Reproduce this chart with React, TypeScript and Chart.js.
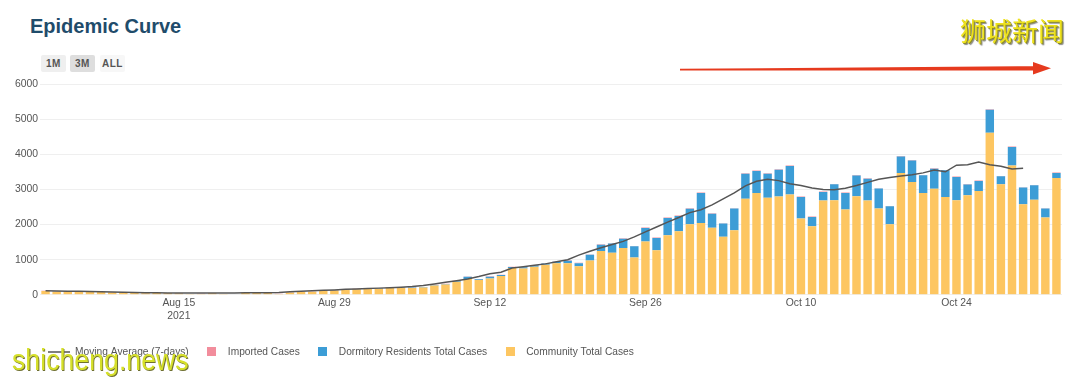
import React, { useEffect, useRef } from 'react';
import { Chart, registerables } from 'chart.js';

Chart.register(...registerables);

const dates = [
  'Aug 3','Aug 4','Aug 5','Aug 6','Aug 7','Aug 8','Aug 9','Aug 10','Aug 11','Aug 12','Aug 13','Aug 14','Aug 15','Aug 16','Aug 17','Aug 18','Aug 19','Aug 20','Aug 21','Aug 22','Aug 23','Aug 24','Aug 25','Aug 26','Aug 27','Aug 28','Aug 29','Aug 30','Aug 31',
  'Sep 1','Sep 2','Sep 3','Sep 4','Sep 5','Sep 6','Sep 7','Sep 8','Sep 9','Sep 10','Sep 11','Sep 12','Sep 13','Sep 14','Sep 15','Sep 16','Sep 17','Sep 18','Sep 19','Sep 20','Sep 21','Sep 22','Sep 23','Sep 24','Sep 25','Sep 26','Sep 27','Sep 28','Sep 29','Sep 30',
  'Oct 1','Oct 2','Oct 3','Oct 4','Oct 5','Oct 6','Oct 7','Oct 8','Oct 9','Oct 10','Oct 11','Oct 12','Oct 13','Oct 14','Oct 15','Oct 16','Oct 17','Oct 18','Oct 19','Oct 20','Oct 21','Oct 22','Oct 23','Oct 24','Oct 25','Oct 26','Oct 27','Oct 28','Oct 29','Oct 30','Oct 31',
  'Nov 1','Nov 2',
];

const tickDates = ['Aug 15', 'Aug 29', 'Sep 12', 'Sep 26', 'Oct 10', 'Oct 24'];
const yearLabel = '2021';
const yearTickDate = 'Aug 15';
const yTickStep = 1000;
const yMax = 6000;

const community = [
  106, 90, 95, 91, 81, 78, 66, 61, 57, 43, 50, 43, 37, 23, 24, 42, 20, 13, 55, 60, 52, 24, 63, 79, 86, 116, 125, 149, 158,
  169, 175, 191, 197, 197, 210, 263, 291, 372, 453, 424, 466, 537, 760, 747, 798, 855, 901, 899, 810, 978, 1246, 1195, 1333, 1061, 1520, 1269, 1692, 1808, 2006,
  2047, 1910, 1651, 1839, 2736, 2897, 2765, 2800, 2858, 2170, 1950, 2686, 2688, 2425, 2802, 2685, 2454, 2008, 3465, 3210, 2898, 3019, 2785, 2688, 2831, 2957, 4611, 3144, 3683, 2577, 2708,
  2198, 3323,
];

const dormitory = [
  2, 1, 2, 1, 0, 1, 0, 1, 1, 0, 2, 1, 1, 0, 1, 2, 0, 1, 1, 2, 1, 0, 2, 3, 4, 5, 4, 6, 8,
  6, 10, 8, 9, 12, 10, 15, 18, 20, 60, 20, 50, 25, 30, 35, 40, 35, 40, 70, 90, 160, 180, 265, 265, 320, 380, 350, 495, 435, 445,
  853, 398, 380, 615, 710, 625, 683, 760, 806, 616, 265, 238, 456, 474, 597, 618, 569, 510, 474, 616, 502, 569, 759, 665, 312, 284, 654, 228, 521, 474, 408,
  256, 142,
];

const imported = [
  10, 9, 8, 6, 7, 5, 4, 6, 4, 5, 4, 6, 4, 3, 5, 8, 4, 4, 6, 4, 5, 6, 5, 6, 6, 7, 6, 5, 6,
  7, 5, 6, 4, 6, 5, 7, 6, 8, 7, 6, 9, 8, 10, 8, 12, 10, 9, 11, 10, 12, 14, 10, 12, 9, 15, 11, 13, 12, 14,
  10, 12, 9, 11, 14, 13, 12, 15, 16, 10, 12, 14, 12, 11, 13, 15, 10, 12, 14, 13, 12, 14, 11, 12, 13, 10, 15, 12, 14, 11, 12,
  10, 13,
];

const movingAverage = [
  115, 110, 104, 98, 92, 86, 79, 72, 66, 60, 56, 54, 52, 50, 50, 50, 52, 54, 56, 58, 60, 68, 84, 100, 112, 126, 140, 155, 168,
  180, 190, 200, 215, 235, 265, 310, 355, 400, 450, 520, 600, 640, 760, 800, 840, 880, 940, 1000, 1130, 1240, 1340, 1430, 1520, 1650, 1790, 1930, 2070, 2200, 2340,
  2420, 2560, 2730, 2900, 3100, 3230, 3290, 3250, 3160, 3110, 3040, 3000, 2990, 3030, 3110, 3200, 3290, 3340, 3380, 3420, 3470, 3550, 3500, 3690, 3700, 3780, 3700, 3660, 3580, 3600, null,
  null, null,
];

const seriesNames = ['Moving Average (7-days)', 'Imported Cases', 'Dormitory Residents Total Cases', 'Community Total Cases'];
const seriesColors = ['#555555', '#f28d9c', '#3c9dd6', '#fdc661'];

function squareIcon(color: string) {
  const c = document.createElement('canvas');
  c.width = 9;
  c.height = 9;
  const g = c.getContext('2d');
  if (g) {
    g.fillStyle = color;
    g.fillRect(0, 0, 9, 9);
  }
  return c;
}

const legendShift = {
  id: 'legendShift',
  afterLayout(chart: any) {
    const l = chart.legend;
    if (l) {
      l.left += 36;
      l.right += 36;
    }
  },
};

export default function App() {
  const ref = useRef<HTMLCanvasElement | null>(null);

  useEffect(() => {
    if (!ref.current) return;
    const font = "'Liberation Sans', Arial, Helvetica, sans-serif";
    const chart = new Chart(ref.current, {
      type: 'bar',
      data: {
        labels: dates,
        datasets: [
          {
            type: 'line',
            label: seriesNames[0],
            data: movingAverage,
            borderColor: seriesColors[0],
            backgroundColor: seriesColors[0],
            borderWidth: 1.5,
            pointRadius: 0,
            pointStyle: 'line',
            tension: 0,
            spanGaps: false,
            order: 0,
          } as any,
          {
            label: seriesNames[1],
            data: imported,
            backgroundColor: seriesColors[1],
            pointStyle: squareIcon(seriesColors[1]),
            order: 3,
          } as any,
          {
            label: seriesNames[2],
            data: dormitory,
            backgroundColor: seriesColors[2],
            pointStyle: squareIcon(seriesColors[2]),
            order: 2,
          } as any,
          {
            label: seriesNames[3],
            data: community,
            backgroundColor: seriesColors[3],
            pointStyle: squareIcon(seriesColors[3]),
            order: 1,
          } as any,
        ],
      },
      options: {
        responsive: false,
        animation: false,
        devicePixelRatio: 1,
        datasets: { bar: { barPercentage: 0.76, categoryPercentage: 1 } } as any,
        layout: { padding: { top: 14, bottom: 3, left: 0, right: 0 } },
        plugins: {
          legend: {
            position: 'bottom',
            align: 'start',
            labels: {
              usePointStyle: true,
              pointStyleWidth: 22,
              boxWidth: 9,
              boxHeight: 9,
              padding: 12,
              color: '#555555',
              font: { family: font, size: 10.2 },
              sort: (a: any, b: any) => a.datasetIndex - b.datasetIndex,
            },
          },
          tooltip: { enabled: false },
        },
        scales: {
          x: {
            stacked: true,
            grid: { display: false, drawTicks: false },
            border: { display: false },
            afterFit: (s: any) => { s.height = 40; },
            ticks: {
              autoSkip: false,
              maxRotation: 0,
              minRotation: 0,
              padding: 2,
              color: '#555555',
              font: { family: font, size: 10.4, lineHeight: 1.25 },
              callback: (_v: any, i: number) => {
                const d = dates[i];
                if (!tickDates.includes(d)) return '';
                return d === yearTickDate ? [d, yearLabel] : d;
              },
            },
          },
          y: {
            stacked: true,
            min: 0,
            max: yMax,
            afterFit: (s: any) => { s.width = 40; },
            grid: { color: '#efefef', drawTicks: false },
            border: { display: false },
            ticks: {
              stepSize: yTickStep,
              padding: 2,
              color: '#555555',
              font: { family: font, size: 10.4 },
              callback: (v: any) => String(v),
            },
          },
        },
      },
      plugins: [legendShift],
    } as any);
    return () => chart.destroy();
  }, []);

  const btn = (left: number, text: string, bg: string) => (
    <div
      style={{
        position: 'absolute',
        left,
        top: 55,
        width: 25,
        height: 17,
        lineHeight: '17px',
        textAlign: 'center',
        background: bg,
        borderRadius: 2,
        fontFamily: "'Liberation Sans', Arial, sans-serif",
        fontWeight: 'bold',
        fontSize: 10,
        letterSpacing: 0.5,
        color: '#555',
      }}
    >
      {text}
    </div>
  );

  return (
    <div style={{ position: 'fixed', left: 0, top: 0, width: 1080, height: 380, background: '#fff', overflow: 'hidden' }}>
      <div
        style={{
          position: 'absolute',
          left: 30,
          top: 14,
          fontFamily: "'Liberation Sans', Arial, sans-serif",
          fontWeight: 'bold',
          fontSize: 20,
          lineHeight: '24px',
          color: '#1f4c6b',
        }}
      >
        Epidemic Curve
      </div>
      {btn(41, '1M', '#efefef')}
      {btn(70, '3M', '#dedede')}
      {btn(100, 'ALL', '#f7f7f7')}
      <canvas ref={ref} width={1062} height={300} style={{ position: 'absolute', left: 0, top: 70, width: 1062, height: 300 }} />
      <svg width={1080} height={380} style={{ position: 'absolute', left: 0, top: 0, pointerEvents: 'none' }}>
        <polygon points="680,68.8 1036,66.2 1036,70.4 680,70.6" fill="#e63a1e" />
        <polygon points="1033,62 1051,68.3 1033,74.5" fill="#e63a1e" />
      </svg>
      <div
        style={{
          position: 'absolute',
          left: 960,
          top: 15,
          fontFamily: "'Noto Sans CJK SC', sans-serif",
          fontSize: 26,
          lineHeight: '30px',
          color: '#eee21c',
          textShadow: '1px 1px 0 #8c8a2a, 2px 2px 1px #888',
          whiteSpace: 'nowrap',
        }}
      >
        狮城新闻
      </div>
      <div
        style={{
          position: 'absolute',
          left: 12,
          top: 343,
          fontFamily: "'Liberation Sans', Arial, sans-serif",
          fontSize: 30,
          lineHeight: '34px',
          color: '#d6e02a',
          textShadow: '1px 1px 0 #6f7030',
          transform: 'scaleX(0.89)',
          transformOrigin: 'left top',
          whiteSpace: 'nowrap',
        }}
      >
        shicheng.news
      </div>
    </div>
  );
}
